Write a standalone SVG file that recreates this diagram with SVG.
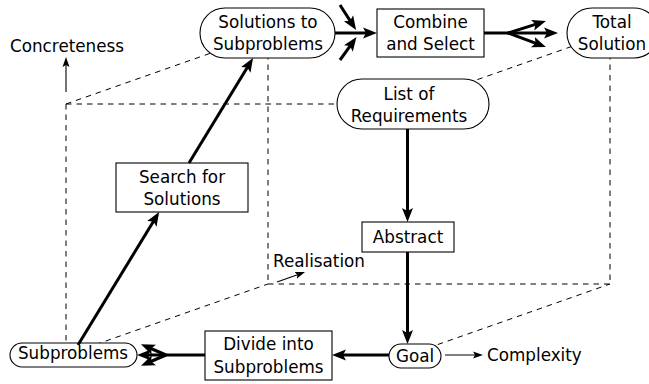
<svg xmlns="http://www.w3.org/2000/svg" width="649" height="384" viewBox="0 0 649 384">
<style>
text{font-family:"DejaVu Sans",sans-serif;font-size:16.8px;fill:#000}
.c{text-anchor:middle}
.n{fill:#fff;stroke:#000;stroke-width:1.1}
.d{fill:none;stroke:#000;stroke-width:1;stroke-dasharray:5.5 5}
.t{fill:none;stroke:#000;stroke-width:3}
.th{fill:none;stroke:#000;stroke-width:1.1}
</style>
<defs>
<marker id="ah" markerWidth="14" markerHeight="12" refX="7" refY="6" orient="auto" markerUnits="userSpaceOnUse"><path d="M0,0.5 L14,6 L0,11.5 L3,6 z" fill="#000"/></marker>
<marker id="as" markerWidth="10" markerHeight="8" refX="5" refY="4" orient="auto" markerUnits="userSpaceOnUse"><path d="M0,0.5 L10,4 L0,7.5 L2,4 z" fill="#000"/></marker>
</defs>
<g id="connectors">
<g id="dashed">
<line class="d" x1="66" y1="104" x2="408" y2="104"/>
<line class="d" x1="66" y1="104" x2="66" y2="355"/>
<line class="d" x1="66" y1="104" x2="268" y2="33"/>
<line class="d" x1="408" y1="104" x2="610" y2="33"/>
<line class="d" x1="268" y1="33" x2="268" y2="284"/>
<line class="d" x1="610" y1="33" x2="610" y2="284"/>
<line class="d" x1="268" y1="284" x2="610" y2="284"/>
<line class="d" x1="66" y1="355" x2="268" y2="284"/>
<line class="d" x1="408" y1="355" x2="610" y2="284"/>
</g>
</g>
<g id="n-solutions"><rect class="n" x="200" y="8" width="135" height="50" rx="25"/><text class="c" x="268" y="28">Solutions to</text><text class="c" x="268" y="50">Subproblems</text></g>
<g id="n-combine"><rect class="n" x="377" y="9" width="107" height="48"/><text class="c" x="430.5" y="28">Combine</text><text class="c" x="430.5" y="50">and Select</text></g>
<g id="n-total"><rect class="n" x="567" y="8" width="92" height="50" rx="25"/><text class="c" x="612" y="28">Total</text><text class="c" x="612" y="50">Solution</text></g>
<g id="n-list"><rect class="n" x="337" y="79" width="152" height="50" rx="25"/><text class="c" x="409" y="100">List of</text><text class="c" x="409" y="122">Requirements</text></g>
<g id="n-search"><rect class="n" x="116" y="163" width="132" height="49"/><text class="c" x="182" y="183">Search for</text><text class="c" x="182" y="205">Solutions</text></g>
<g id="n-abstract"><rect class="n" x="362" y="222" width="92" height="30"/><text class="c" x="408" y="243">Abstract</text></g>
<g id="n-subproblems"><rect class="n" x="10" y="343" width="127" height="24" rx="12"/><text class="c" x="73" y="359">Subproblems</text></g>
<g id="n-divide"><rect class="n" x="205" y="331" width="127" height="49"/><text class="c" x="268.5" y="350">Divide into</text><text class="c" x="268.5" y="373">Subproblems</text></g>
<g id="n-goal"><rect class="n" x="389" y="344" width="52" height="24" rx="12"/><text class="c" x="415" y="362">Goal</text></g>
<g id="labels">
<text x="10" y="52">Concreteness</text>
<text x="487" y="361">Complexity</text>
<text x="273" y="267">Realisation</text>
</g>
<g id="arrows">
<line class="th" x1="66" y1="92" x2="66" y2="62" marker-end="url(#as)"/>
<line class="th" x1="445" y1="355" x2="478" y2="355" marker-end="url(#as)"/>
<line class="th" x1="277" y1="282" x2="300.3" y2="273.7" marker-end="url(#as)"/>
<line class="t" x1="78" y1="345" x2="155.5" y2="218" marker-end="url(#ah)"/>
<line class="t" x1="189" y1="163" x2="249.4" y2="64" marker-end="url(#ah)"/>
<line class="t" x1="407.5" y1="129" x2="407.5" y2="215" marker-end="url(#ah)"/>
<line class="t" x1="407.5" y1="252" x2="407.5" y2="337" marker-end="url(#ah)"/>
<line class="t" x1="389" y1="355" x2="339" y2="355" marker-end="url(#ah)"/>
<polyline class="t" points="205,355 165,355 144,355" marker-end="url(#ah)"/>
<line class="t" x1="166" y1="355" x2="147.4" y2="347" marker-end="url(#ah)"/>
<line class="t" x1="166" y1="355" x2="147.4" y2="363" marker-end="url(#ah)"/>
<line class="t" x1="335" y1="33" x2="370" y2="33" marker-end="url(#ah)"/>
<line class="t" x1="340" y1="5" x2="352.3" y2="24.1" marker-end="url(#ah)"/>
<line class="t" x1="340" y1="60" x2="352.4" y2="42.8" marker-end="url(#ah)"/>
<polyline class="t" points="484,33 508,33 551,33" marker-end="url(#ah)"/>
<line class="t" x1="508" y1="33" x2="539.3" y2="23.1" marker-end="url(#ah)"/>
<line class="t" x1="508" y1="33" x2="539.4" y2="44.6" marker-end="url(#ah)"/>
</g>
</svg>
